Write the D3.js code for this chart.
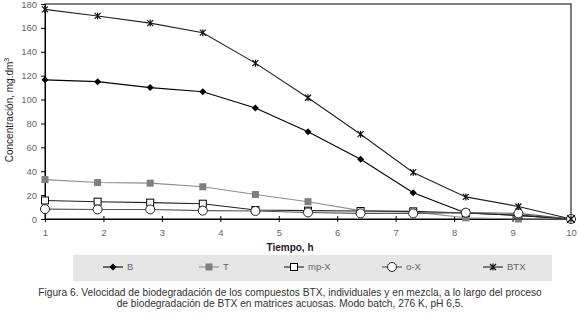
<!DOCTYPE html>
<html>
<head>
<meta charset="utf-8">
<script src="https://cdn.jsdelivr.net/npm/d3@7"></script>
<style>
  body { margin: 0; background: #fff; }
  text { font-family: "Liberation Sans", Arial, sans-serif; }
</style>
</head>
<body>
<svg id="chart" width="579" height="323"></svg>
<script>
(function chart() {
  // tiempo: 11 mediciones igualmente espaciadas entre 1 y 10 h
  var tiempo = [1, 1.9, 2.8, 3.7, 4.6, 5.5, 6.4, 7.3, 8.2, 9.1, 10];
  var xTicks = [1, 2, 3, 4, 5, 6, 7, 8, 9, 10];
  var yTicks = [0, 20, 40, 60, 80, 100, 120, 140, 160, 180];

  var valB   = [116.5, 115, 110, 106.5, 93, 73, 50, 22, 5, 3, 0];
  var valT   = [33, 30.5, 30, 27, 20.5, 14.5, 7, 6, 1, 0, 0];
  var valMpX = [15.5, 14.5, 13.7, 12.8, 7.5, 7, 6.7, 6.4, 5, 3, 0];
  var valOX  = [8.3, 8, 8, 7, 6.7, 5.5, 4.7, 4.7, 5.3, 4.7, 0];
  var valBTX = [175.5, 170, 164, 156, 130.5, 101.5, 71, 39, 18.5, 10.5, 0];

  var series = [
    { name: "B",    values: valB,   line: "#000",    marker: "diamond" },
    { name: "T",    values: valT,   line: "#8c8c8c", marker: "graysquare" },
    { name: "mp-X", values: valMpX, line: "#222",    marker: "square" },
    { name: "o-X",  values: valOX,  line: "#555",    marker: "circle" },
    { name: "BTX",  values: valBTX, line: "#222",    marker: "star" }
  ];

  var svg = d3.select("#chart");
  var left = 45, right = 571, top = 4, bottom = 219;

  var x = d3.scaleLinear().domain([1, 10]).range([left, right]);
  var y = d3.scaleLinear().domain([0, 180]).range([bottom, top]);

  // plot border
  svg.append("rect")
      .attr("x", left).attr("y", top)
      .attr("width", right - left).attr("height", bottom - top)
      .attr("fill", "none").attr("stroke", "#000").attr("stroke-width", 1);

  var yAxis = svg.append("g")
      .attr("transform", "translate(" + left + ",0)")
      .call(d3.axisLeft(y).tickValues(yTicks).tickSize(4).tickPadding(4));
  var xAxis = svg.append("g")
      .attr("transform", "translate(0," + bottom + ")")
      .call(d3.axisBottom(x).tickValues(xTicks).tickSizeInner(3).tickSizeOuter(0).tickPadding(7));
  xAxis.selectAll(".tick line").attr("y1", -3);

  [xAxis, yAxis].forEach(function(a) {
    a.select(".domain").attr("stroke", "#000");
    a.selectAll(".tick line").attr("stroke", "#000");
    a.selectAll("text").attr("fill", "#666").style("font-size", "9.5px");
  });

  svg.append("text")
      .attr("x", 290).attr("y", 251)
      .attr("text-anchor", "middle")
      .style("font-size", "10px").style("font-weight", "bold").attr("fill", "#222")
      .text("Tiempo, h");

  var yl = svg.append("text")
      .attr("transform", "translate(13,110) rotate(-90)")
      .attr("text-anchor", "middle")
      .style("font-size", "10px").attr("fill", "#222");
  yl.append("tspan").text("Concentración, mg.dm");
  yl.append("tspan").attr("dy", -4).style("font-size", "7px").text("3");

  function drawMarker(g, type) {
    if (type === "diamond") {
      g.append("path").attr("d", "M0,-3.5L3.5,0L0,3.5L-3.5,0Z").attr("fill", "#000");
    } else if (type === "graysquare") {
      g.append("rect").attr("x", -3.5).attr("y", -3.5).attr("width", 7).attr("height", 7)
        .attr("fill", "#7f7f7f");
    } else if (type === "square") {
      g.append("rect").attr("x", -3.5).attr("y", -3.5).attr("width", 7).attr("height", 7)
        .attr("fill", "#fff").attr("stroke", "#000").attr("stroke-width", 1);
    } else if (type === "circle") {
      g.append("circle").attr("r", 4.5)
        .attr("fill", "#fff").attr("stroke", "#222").attr("stroke-width", 1);
    } else if (type === "star") {
      g.append("path").attr("d", "M-3,-3L3,3M-3,3L3,-3M0,-3.5L0,3.5")
        .attr("stroke", "#111").attr("stroke-width", 1.2).attr("fill", "none");
    }
  }

  var line = d3.line()
      .x(function(d, i) { return x(tiempo[i]); })
      .y(function(d) { return y(d); });

  series.forEach(function(s) {
    svg.append("path")
        .datum(s.values)
        .attr("d", line)
        .attr("fill", "none")
        .attr("stroke", s.line)
        .attr("stroke-width", 1.1);
  });

  series.forEach(function(s) {
    svg.append("g").selectAll("g")
        .data(s.values)
      .enter().append("g")
        .attr("transform", function(d, i) { return "translate(" + x(tiempo[i]) + "," + y(d) + ")"; })
        .each(function() { drawMarker(d3.select(this), s.marker); });
  });

  // legend
  var legendX = [103, 199, 284, 382, 483];
  svg.append("rect")
      .attr("x", 73).attr("y", 255).attr("width", 479).attr("height", 26)
      .attr("fill", "#e6e6e6");
  var lg = svg.selectAll(".leg")
      .data(series)
    .enter().append("g")
      .attr("class", "leg")
      .attr("transform", function(d, i) { return "translate(" + legendX[i] + ",267)"; });
  lg.append("line").attr("x1", 0).attr("x2", 20)
      .attr("stroke", function(d) { return d.line; }).attr("stroke-width", 1.1);
  lg.append("g").attr("transform", "translate(10,0)")
      .each(function(d) { drawMarker(d3.select(this), d.marker); });
  lg.append("text").attr("x", 24).attr("dy", "0.35em")
      .style("font-size", "9.5px").attr("fill", "#666")
      .text(function(d) { return d.name; });

  // caption
  var caption = [
    "Figura 6.  Velocidad de biodegradación de los compuestos BTX, individuales y en mezcla, a lo largo del proceso",
    "de biodegradación de BTX en matrices acuosas.  Modo batch, 276 K, pH 6,5."
  ];
  svg.selectAll(".cap")
      .data(caption)
    .enter().append("text")
      .attr("x", 290)
      .attr("y", function(d, i) { return 296 + i * 11; })
      .attr("text-anchor", "middle")
      .style("font-size", "10.2px").attr("fill", "#333")
      .text(function(d) { return d; });
})();
</script>
</body>
</html>
